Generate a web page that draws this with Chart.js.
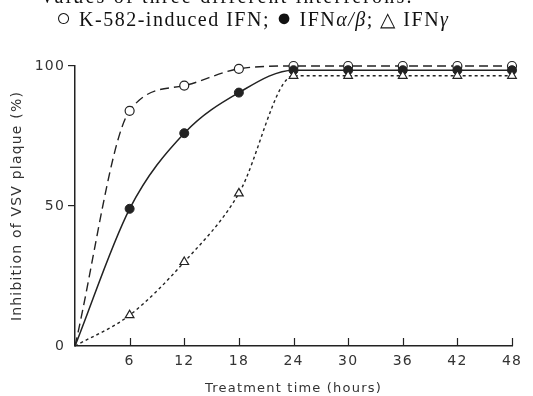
<!DOCTYPE html>
<html>
<head>
<meta charset="utf-8">
<script src="https://cdn.jsdelivr.net/npm/chart.js@4"></script>
<style>
  body { margin: 0; background: #fff; }
</style>
</head>
<body>
<canvas id="ifnChart" width="533" height="396"></canvas>
<script>
// treatment time in hours, inhibition of VSV plaque in %
const hours = [0, 6, 12, 18, 24, 30, 36, 42, 48];
const k582Ifn = [0, 84, 93, 99, 100, 100, 100, 100, 100];
const ifnAlphaBeta = [0, 49, 76, 90.5, 98.5, 98.5, 98.5, 98.5, 98.5];
const ifnGamma = [0, 11, 30, 54.5, 96.5, 96.5, 96.5, 96.5, 96.5];
const xTicks = [6, 12, 18, 24, 30, 36, 42, 48];
const yTicks = [0, 50, 100];

const ink = '#222';
const textInk = '#333';
const axisFont = "'DejaVu Sans', sans-serif";

const toPoints = vals => vals.map((v, i) => ({ x: hours[i], y: v }));
// no marker at the origin
const radii = r => hours.map(h => h === 0 ? 0 : r);

// the scanned figure has widely spaced lettering
const spacingPlugin = {
    id: 'spacing',
    beforeDraw(chart) {
        chart.ctx.letterSpacing = '1.2px';
    }
};

// x tick marks point up into the plot
const innerTicksPlugin = {
    id: 'innerTicks',
    afterDatasetsDraw(chart) {
        const ctx = chart.ctx;
        const xs = chart.scales.x;
        const base = xs.top;
        ctx.save();
        ctx.strokeStyle = ink;
        ctx.lineWidth = 1.2;
        ctx.beginPath();
        xTicks.forEach(v => {
            const px = Math.round(xs.getPixelForValue(v)) + 0.5;
            ctx.moveTo(px, base);
            ctx.lineTo(px, base - 8);
        });
        ctx.stroke();
        ctx.restore();
    }
};

// caption lines above the plot (first one cut off by the page edge)
const captionPlugin = {
    id: 'caption',
    afterDraw(chart) {
        const ctx = chart.ctx;
        ctx.save();
        ctx.fillStyle = '#111';
        ctx.textBaseline = 'alphabetic';
        const serif = "'Liberation Serif', serif";
        const drawLine = (parts, x, y) => {
            parts.forEach(p => {
                ctx.font = (p[1] ? 'italic ' : '') + (p[2] || 20) + 'px ' + serif;
                ctx.fillText(p[0], x, y);
                x += ctx.measureText(p[0]).width;
            });
        };
        ctx.letterSpacing = '2.2px';
        drawLine([['Values of three different interferons.', false]], 40, 3);
        ctx.letterSpacing = '1.5px';
        drawLine([
            ['\u25CB', false, 25],
            [' K-582-induced IFN; ', false],
            ['\u25CF', false, 25],
            [' IFN', false],
            ['\u03B1/\u03B2', true],
            ['; \u25B3 IFN', false],
            ['\u03B3', true]
        ], 56, 26);
        ctx.restore();
    }
};

const data = {
    datasets: [{
        label: 'IFN gamma',
        data: toPoints(ifnGamma),
        borderColor: ink,
        borderWidth: 1.4,
        borderDash: [3, 3],
        pointStyle: 'triangle',
        pointRadius: radii(5),
        pointBackgroundColor: '#fff',
        pointBorderColor: ink,
        pointBorderWidth: 1.2,
        cubicInterpolationMode: 'monotone',
        clip: false
    }, {
        label: 'IFN alpha/beta',
        data: toPoints(ifnAlphaBeta),
        borderColor: ink,
        borderWidth: 1.5,
        pointStyle: 'circle',
        pointRadius: radii(4.5),
        pointBackgroundColor: '#222',
        pointBorderColor: ink,
        pointBorderWidth: 1,
        cubicInterpolationMode: 'monotone',
        clip: false
    }, {
        label: 'K-582-induced IFN',
        data: toPoints(k582Ifn),
        borderColor: ink,
        borderWidth: 1.4,
        borderDash: [9, 5],
        pointStyle: 'circle',
        pointRadius: radii(4.5),
        pointBackgroundColor: '#fff',
        pointBorderColor: ink,
        pointBorderWidth: 1.2,
        cubicInterpolationMode: 'monotone',
        clip: false
    }]
};

const config = {
    type: 'line',
    data: data,
    plugins: [spacingPlugin, innerTicksPlugin, captionPlugin],
    options: {
        responsive: false,
        animation: false,
        layout: {
            padding: { top: 66, right: 21, left: 0, bottom: 0 }
        },
        plugins: {
            legend: { display: false },
            tooltip: { enabled: false }
        },
        scales: {
            x: {
                type: 'linear',
                min: 0,
                max: 48,
                afterFit: s => { s.height = 50; },
                afterBuildTicks: s => { s.ticks = xTicks.map(v => ({ value: v })); },
                border: { display: true, color: ink, width: 1.5 },
                grid: { display: false, drawTicks: false },
                ticks: {
                    padding: 7,
                    color: textInk,
                    font: { family: axisFont, size: 14 },
                    maxRotation: 0
                },
                title: {
                    display: true,
                    text: 'Treatment time (hours)',
                    color: textInk,
                    font: { family: axisFont, size: 13 },
                    padding: { top: 0, bottom: 0 }
                }
            },
            y: {
                min: 0,
                max: 100,
                afterFit: s => { s.width = 75; },
                afterBuildTicks: s => { s.ticks = yTicks.map(v => ({ value: v })); },
                border: { display: true, color: ink, width: 1.5 },
                grid: {
                    drawOnChartArea: false,
                    tickLength: 7,
                    color: c => c.tick && c.tick.value === 0 ? 'rgba(0,0,0,0)' : ink,
                    lineWidth: 1.2
                },
                ticks: {
                    padding: 3,
                    color: textInk,
                    font: { family: axisFont, size: 14 }
                },
                title: {
                    display: true,
                    text: 'Inhibition of VSV plaque (%)',
                    color: textInk,
                    font: { family: axisFont, size: 14 },
                    padding: { top: 9, bottom: 0 }
                }
            }
        }
    }
};

const ifnChart = new Chart(document.getElementById('ifnChart'), config);
</script>
</body>
</html>
